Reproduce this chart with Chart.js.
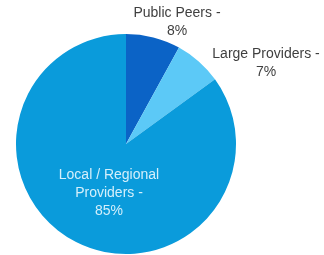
<!DOCTYPE html>
<html lang="en">
<head>
    <meta charset="UTF-8">
    <title>Peering mix</title>
    <script src="https://cdn.jsdelivr.net/npm/chart.js@4.4.0/dist/chart.umd.min.js"></script>
    <style>
        html, body { margin: 0; padding: 0; background: #ffffff; }
        #wrap { width: 324px; height: 255px; }
    </style>
</head>
<body>
    <div id="wrap"><canvas id="pie" width="324" height="255"></canvas></div>
    <script>
        // data
        const categories = ['Public Peers', 'Large Providers', 'Local / Regional Providers'];
        const shares = [8, 7, 85];
        const sliceColors = ['#0b63c6', '#5cc9f7', '#0a9bdb'];

        // label lines and where each sits relative to the pie centre
        const labelLines = [
            ['Public Peers -', shares[0] + '%'],
            ['Large Providers -', shares[1] + '%'],
            ['Local / Regional', 'Providers -', shares[2] + '%']
        ];
        const labelOffsets = [[51, -131], [140, -90], [-17, 31]];
        const labelColors = ['#3f3f3f', '#3f3f3f', '#d4effb'];

        // draw the slice labels on top of the pie
        const sliceLabels = {
            id: 'sliceLabels',
            afterDatasetsDraw(chart) {
                const ctx = chart.ctx;
                const arcs = chart.getDatasetMeta(0).data;
                const cx = arcs[0].x;
                const cy = arcs[0].y;
                const lineH = 18;
                ctx.save();
                ctx.font = '14px "Liberation Sans", Arial, sans-serif';
                ctx.textAlign = 'center';
                ctx.textBaseline = 'middle';
                labelLines.forEach((lines, i) => {
                    ctx.fillStyle = labelColors[i];
                    const x = cx + labelOffsets[i][0];
                    const y0 = cy + labelOffsets[i][1];
                    lines.forEach((t, j) => ctx.fillText(t, x, y0 + j * lineH));
                });
                ctx.restore();
            }
        };

        new Chart(document.getElementById('pie'), {
            type: 'pie',
            data: {
                labels: categories,
                datasets: [{
                    data: shares,
                    backgroundColor: sliceColors,
                    borderWidth: 0
                }]
            },
            options: {
                responsive: false,
                animation: false,
                layout: { padding: { left: 16, right: 88, top: 34, bottom: 1 } },
                plugins: {
                    legend: { display: false },
                    tooltip: { enabled: false }
                }
            },
            plugins: [sliceLabels]
        });
    </script>
</body>
</html>
